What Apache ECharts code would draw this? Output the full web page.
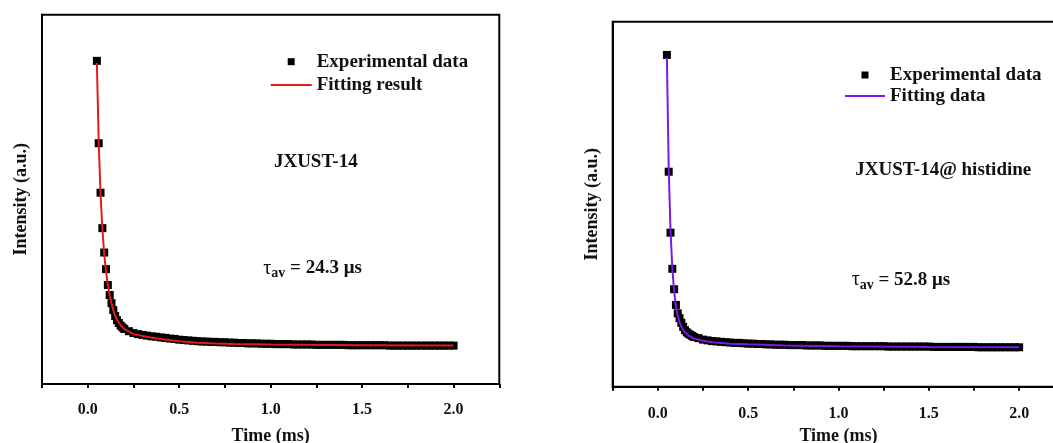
<!DOCTYPE html>
<html>
<head>
<meta charset="utf-8">
<script src="https://cdn.jsdelivr.net/npm/echarts@6/dist/echarts.min.js"></script>
<style>
html,body{margin:0;padding:0;background:#fff;}
#c{width:1053px;height:443px;}
</style>
</head>
<body>
<div id="c"></div>
<script>
// ---- data (time in ms, intensity in a.u.) ----
const time = [0.05,0.06,0.07,0.08,0.09,0.10,0.11,0.12,0.13,0.14,0.15,0.16,0.17,0.18,0.19,0.20,
  0.225,0.25,0.275,0.30,0.325,0.35,0.375,0.40,0.425,0.45,0.475,0.50,0.525,0.55,0.575,0.60,
  0.625,0.65,0.675,0.70,0.725,0.75,0.775,0.80,0.825,0.85,0.875,0.90,0.925,0.95,0.975,1.00,
  1.025,1.05,1.075,1.10,1.125,1.15,1.175,1.20,1.225,1.25,1.275,1.30,1.325,1.35,1.375,1.40,
  1.425,1.45,1.475,1.50,1.525,1.55,1.575,1.60,1.625,1.65,1.675,1.70,1.725,1.75,1.775,1.80,
  1.825,1.85,1.875,1.90,1.925,1.95,1.975,2.00];

const expJXUST = [875,652,518,422,356,311,268,241,219,200,184,173,165,158,153,149,
  143,138,135,133,131,129,128,126,125,123,122,120,119,118,117,116,
  115,115,114,114,113,113,112,112,111,111,110,110,110,109,109,109,
  108,108,108,108,107,107,107,107,107,106,106,106,106,106,106,106,
  105,105,105,105,105,105,105,105,105,104,104,104,104,104,104,104,
  104,104,104,104,104,104,104,104];

const expHis = [909,589,422,323,267,224,201,188,175,164,155,149,145,142,139,136,
  133,129,127,125,124,123,122,121,120,120,119,118,118,117,117,116,
  116,115,115,115,114,114,114,114,113,113,113,113,112,112,112,112,
  112,112,111,111,111,111,111,111,111,111,110,110,110,110,110,110,
  110,110,110,110,109,109,109,109,109,109,109,109,109,109,108,108,
  108,108,108,108,108,108,108,108];

const fitTimeJXUST = [0.05,0.06,0.07,0.08,0.09,0.10,0.11,0.12,0.13,0.14,0.15,0.16,0.18,0.20,
  0.25,0.30,0.35,0.40,0.50,0.60,0.70,0.80,1.0,1.2,1.5,2.0];
const fitJXUST = [870,655,515,420,352,305,268,240,218,200,185,174,159,149,
  135,130,125,122,116,112,110,108.5,107,106,105,104];

const fitTimeHis = [0.05,0.06,0.07,0.08,0.09,0.10,0.11,0.12,0.13,0.14,0.15,0.17,0.20,
  0.25,0.30,0.40,0.50,0.70,1.0,1.5,2.0];
const fitHis = [901,600,428,325,262,220,194,177,165,156,149,140,132,
  126,122,118,116,113,111,109,108];

const xTicks = [-0.25, 2.25, 0.25]; // min, max, interval
const labelsLeft = {sample:'JXUST-14', tau:'24.3', exp:'Experimental data', fit:'Fitting result'};
const labelsRight = {sample:'JXUST-14@ histidine', tau:'52.8', exp:'Experimental data', fit:'Fitting data'};

function pairs(xs, ys){ return xs.map((x,i)=>[x, ys[i]]); }

const FONT = "'Liberation Serif','Times New Roman',serif";
const chart = echarts.init(document.getElementById('c'), null, {renderer:'canvas'});

function xAxisCfg(gi, margin, nameGap){
  return {
    type:'value', gridIndex:gi, min:xTicks[0], max:xTicks[1], interval:xTicks[2],
    name:'Time (ms)', nameLocation:'middle', nameGap:nameGap,
    nameTextStyle:{fontFamily:FONT, fontWeight:'bold', fontSize:18, color:'#111'},
    axisLine:{show:true, onZero:false, lineStyle:{color:'#000', width:2}},
    axisTick:{show:true, length:4, lineStyle:{color:'#000', width:2}},
    axisLabel:{show:true, interval:0, margin:margin, fontFamily:FONT, fontWeight:'bold', fontSize:16, color:'#111',
      formatter:function(v){
        const d = Math.abs(v*2 - Math.round(v*2));
        return (d < 1e-6 && v > -0.01 && v < 2.01) ? v.toFixed(1) : '';
      }},
    splitLine:{show:false}
  };
}
function yAxisCfg(gi, nameGap){
  return {
    type:'value', gridIndex:gi, min:0, max:1000,
    name:'Intensity (a.u.)', nameLocation:'middle', nameGap:nameGap, nameRotate:90,
    nameTextStyle:{fontFamily:FONT, fontWeight:'bold', fontSize:18, color:'#111'},
    axisLine:{show:true, onZero:false, lineStyle:{color:'#000', width:2}},
    axisTick:{show:false}, axisLabel:{show:false}, splitLine:{show:false}
  };
}

function tauText(x, y, val){
  return {
    type:'text', x:x, y:y,
    style:{
      text:'{t|τ}{s|av}{n| = ' + val + ' μs}',
      align:'left', verticalAlign:'middle',
      rich:{
        t:{fontFamily:FONT, fontSize:20, fill:'#111', fontWeight:'normal'},
        s:{fontFamily:FONT, fontSize:14, fontWeight:'bold', fill:'#111', padding:[10,0,0,0]},
        n:{fontFamily:FONT, fontSize:19, fontWeight:'bold', fill:'#111'}
      }
    }
  };
}
function sampleText(x, y, txt){
  return {type:'text', x:x, y:y, style:{text:txt, align:'center', verticalAlign:'middle',
    font:"bold 19px " + FONT, fill:'#111'}};
}
// legend drawn as graphic: square marker row + line row
function legendGraphic(x0, lineLen, y1, y2, expName, fitName, color){
  const cx = x0 + lineLen/2;
  const tx = x0 + lineLen + 5;
  return [
    {type:'rect', shape:{x:cx-3.5, y:y1-3.5, width:7, height:7}, style:{fill:'#000'}},
    {type:'text', x:tx, y:y1, style:{text:expName, align:'left', verticalAlign:'middle', font:"bold 19px " + FONT, fill:'#111'}},
    {type:'line', shape:{x1:x0, y1:y2, x2:x0+lineLen, y2:y2}, style:{stroke:color, lineWidth:2}},
    {type:'text', x:tx, y:y2, style:{text:fitName, align:'left', verticalAlign:'middle', font:"bold 19px " + FONT, fill:'#111'}}
  ];
}

const RED = '#e31a1c', PURPLE = '#7a1ae6';

const option = {
  backgroundColor:'#fff',
  animation:false,
  grid:[
    {left:42, top:14.7, width:457.3, height:369.3, show:true, borderColor:'#000', borderWidth:2,
      backgroundColor:'transparent', outerBoundsMode:'none', containLabel:false},
    {left:612.7, top:21.7, width:451.6, height:365, show:true, borderColor:'#000', borderWidth:2,
      backgroundColor:'transparent', outerBoundsMode:'none', containLabel:false}
  ],
  xAxis:[ xAxisCfg(0, 18, 43), xAxisCfg(1, 19, 41) ],
  yAxis:[ yAxisCfg(0, 12), yAxisCfg(1, 11) ],
  series:[
    {name:labelsLeft.exp, type:'scatter', xAxisIndex:0, yAxisIndex:0, symbol:'rect', symbolSize:8,
      itemStyle:{color:'#000', opacity:1}, data:pairs(time, expJXUST), z:2},
    {name:labelsLeft.fit, type:'line', xAxisIndex:0, yAxisIndex:0, symbol:'none', showSymbol:false,
      lineStyle:{color:RED, width:2}, itemStyle:{color:RED}, data:pairs(fitTimeJXUST, fitJXUST), z:3},
    {name:labelsRight.exp, type:'scatter', xAxisIndex:1, yAxisIndex:1, symbol:'rect', symbolSize:8,
      itemStyle:{color:'#000', opacity:1}, data:pairs(time, expHis), z:2},
    {name:labelsRight.fit, type:'line', xAxisIndex:1, yAxisIndex:1, symbol:'none', showSymbol:false,
      lineStyle:{color:PURPLE, width:2}, itemStyle:{color:PURPLE}, data:pairs(fitTimeHis, fitHis), z:3}
  ],
  graphic:[
    sampleText(315.8, 161.7, labelsLeft.sample),
    tauText(263.3, 268.3, labelsLeft.tau),
    sampleText(943.3, 170, labelsRight.sample),
    tauText(851.7, 280, labelsRight.tau)
  ].concat(
    legendGraphic(270.7, 41, 61.7, 85, labelsLeft.exp, labelsLeft.fit, RED),
    legendGraphic(845, 40, 75, 96, labelsRight.exp, labelsRight.fit, PURPLE)
  )
};
chart.setOption(option);
</script>
</body>
</html>
